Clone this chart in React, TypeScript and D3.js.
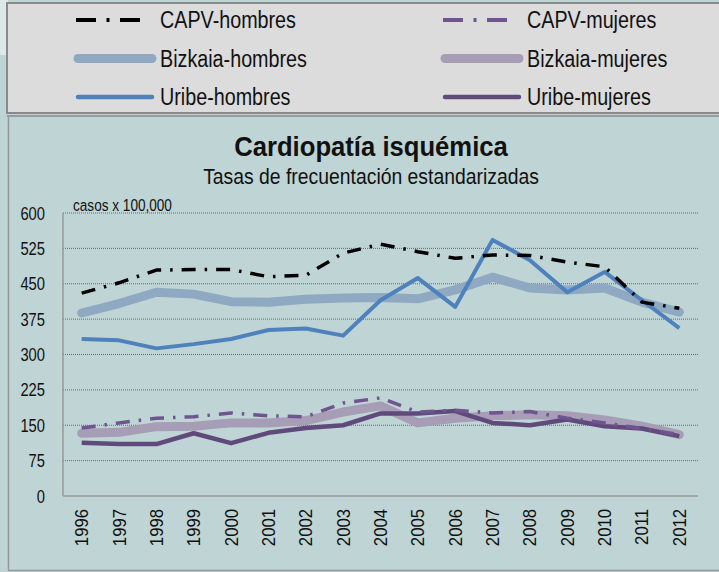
import React from 'react';
import * as d3 from 'd3';

const years = ['1996', '1997', '1998', '1999', '2000', '2001', '2002', '2003', '2004', '2005', '2006', '2007', '2008', '2009', '2010', '2011', '2012'];
const yTicks = [0, 75, 150, 225, 300, 375, 450, 525, 600];

const capvHombres = [430, 452, 479, 480, 480, 465, 468, 515, 534, 518, 504, 511, 510, 496, 486, 411, 398];
const bizkaiaHombres = [388, 408, 432, 428, 412, 411, 417, 420, 421, 418, 437, 464, 441, 437, 441, 411, 390];
const uribeHombres = [333, 330, 313, 322, 333, 352, 355, 340, 415, 462, 401, 543, 500, 432, 475, 415, 356];
const capvMujeres = [144, 155, 165, 168, 176, 170, 168, 197, 208, 178, 182, 176, 179, 165, 155, 143, 130];
const bizkaiaMujeres = [133, 135, 147, 148, 155, 155, 160, 178, 191, 155, 165, 170, 172, 170, 161, 148, 130];
const uribeMujeres = [113, 110, 110, 133, 112, 134, 144, 150, 175, 175, 180, 155, 150, 162, 148, 143, 127];

const FONT = '"Liberation Sans", Arial, sans-serif';

const series = [
  { name: 'Bizkaia-hombres', values: bizkaiaHombres, color: '#8ea9c1', width: 9, dash: null },
  { name: 'Bizkaia-mujeres', values: bizkaiaMujeres, color: '#a79db7', width: 9, dash: null },
  { name: 'Uribe-hombres', values: uribeHombres, color: '#4f81bd', width: 4, dash: null },
  { name: 'Uribe-mujeres', values: uribeMujeres, color: '#604a7b', width: 4.5, dash: null },
  { name: 'CAPV-hombres', values: capvHombres, color: '#000000', width: 3.5, dash: '14,9,2.5,9' },
  { name: 'CAPV-mujeres', values: capvMujeres, color: '#6f548f', width: 3.5, dash: '14,9,2.5,9' },
];

// legend layout order (two columns)
const legendOrder = [
  ['CAPV-hombres', 'CAPV-mujeres'],
  ['Bizkaia-hombres', 'Bizkaia-mujeres'],
  ['Uribe-hombres', 'Uribe-mujeres'],
];

// narrow-looking text: horizontally squeezed Liberation Sans
function T({ x, y, sx = 0.83, rot = 0, anchor = 'start', size, weight = 'normal', children }: any) {
  const tf = rot
    ? `translate(${x},${y}) rotate(${rot}) scale(${sx},1)`
    : `translate(${x},${y}) scale(${sx},1)`;
  return (
    <text transform={tf} textAnchor={anchor} fontSize={size} fontWeight={weight} fill="#111">{children}</text>
  );
}

export default function App() {
  const W = 719;
  const H = 572;
  const plot = { left: 63, right: 698, top: 213, bottom: 496 };

  const x = d3.scaleBand<string>().domain(years).range([plot.left, plot.right]);
  const y = d3.scaleLinear().domain([0, 600]).range([plot.bottom, plot.top]);
  const cx = (yr: string) => (x(yr) as number) + x.bandwidth() / 2;

  const line = d3.line<number>()
    .x((_, i) => cx(years[i]))
    .y(d => y(d));

  const byName = Object.fromEntries(series.map(s => [s.name, s]));

  return (
    <svg width={W} height={H} style={{ position: 'absolute', left: 0, top: 0, fontFamily: FONT }}>
      <rect x={0} y={0} width={W} height={H} fill="#bfd4d4" />
      <rect x={0} y={0} width={8} height={55} fill="#dde8e8" />

      {/* legend box */}
      <rect x={7} y={3} width={720} height={110} fill="#dcdcdc" stroke="#8a8a8a" strokeWidth={2} />
      <line x1={7} x2={W} y1={116} y2={116} stroke="#8a8a8a" strokeWidth={1.5} />
      {legendOrder.map((row, r) =>
        row.map((name, c) => {
          const s = byName[name];
          const ly = 20 + r * 38.5;
          const lx = c === 0 ? 75 : 442;
          const tx = c === 0 ? 160 : 527;
          return (
            <g key={name}>
              {s.dash ? (
                <line x1={lx + 1} x2={lx + 65} y1={ly} y2={ly} stroke={s.color} strokeWidth={4}
                  strokeDasharray="20,10.5,3,10.5" strokeLinecap="butt" />
              ) : (
                <line x1={lx + 3} x2={lx + 77} y1={ly} y2={ly} stroke={s.color}
                  strokeWidth={s.width === 9 ? 9 : 4.5} strokeLinecap="round" />
              )}
              <T x={tx} y={ly + 8} size={23.5} sx={0.84}>{name}</T>
            </g>
          );
        })
      )}

      {/* chart area frame */}
      <line x1={8.5} x2={8.5} y1={117} y2={570} stroke="#999" strokeWidth={1.5} />
      <line x1={8} x2={W} y1={570.5} y2={570.5} stroke="#999" strokeWidth={1.5} />

      <T x={371} y={156} anchor="middle" size={28.5} weight="bold" sx={0.9}>Cardiopatía isquémica</T>
      <T x={371} y={184} anchor="middle" size={22} sx={0.88}>Tasas de frecuentación estandarizadas</T>

      {/* grid */}
      {yTicks.filter(t => t > 0).map(t => (
        <line key={t} x1={plot.left} x2={plot.right} y1={y(t)} y2={y(t)} stroke="#3f6494" strokeWidth={0.9} strokeDasharray="1,1" />
      ))}
      <line x1={plot.left} x2={plot.left} y1={plot.top} y2={plot.bottom} stroke="#999" strokeWidth={1.5} />
      <line x1={plot.left} x2={plot.right} y1={plot.bottom} y2={plot.bottom} stroke="#999" strokeWidth={1.5} />

      {yTicks.map(t => (
        <T key={t} x={45} y={y(t) + 6.5} anchor="end" size={18} sx={0.82}>{t}</T>
      ))}
      <T x={73} y={211} size={17} sx={0.8}>casos x 100,000</T>

      {years.map(yr => (
        <T key={yr} x={cx(yr) + 6.5} y={509} rot={-90} anchor="end" size={19} sx={0.88}>{yr}</T>
      ))}

      {series.map(s => (
        <path key={s.name} d={line(s.values) || ''} fill="none" stroke={s.color} strokeWidth={s.width}
          strokeDasharray={s.dash || undefined} strokeLinejoin="round" strokeLinecap={s.width === 9 ? 'round' : 'butt'} />
      ))}
    </svg>
  );
}
